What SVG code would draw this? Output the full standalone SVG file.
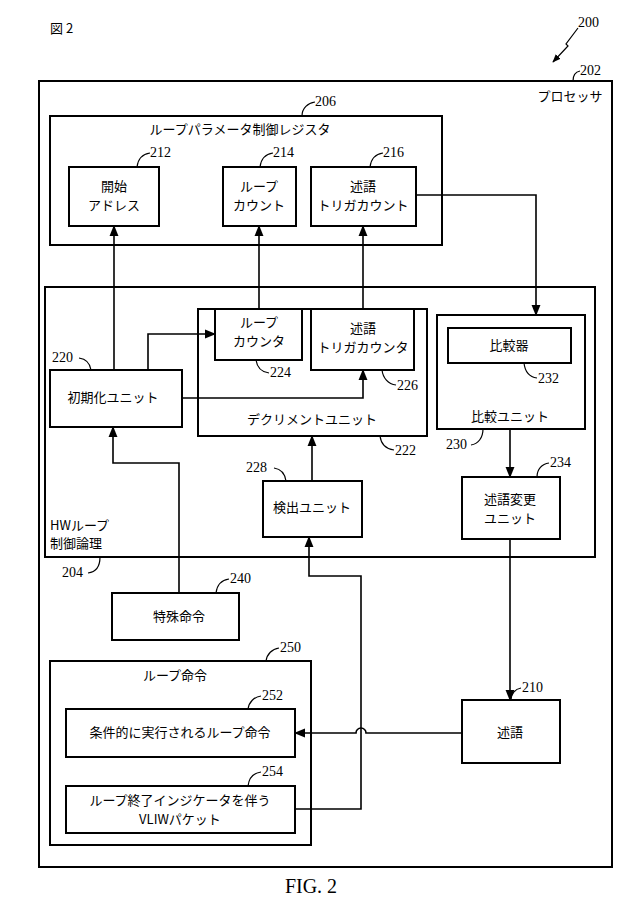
<svg xmlns="http://www.w3.org/2000/svg" width="622" height="906" viewBox="0 0 622 906">
<style>
.b{fill:none;stroke:#000;stroke-width:2}
.c{fill:none;stroke:#000;stroke-width:1.6}
.l{fill:none;stroke:#000;stroke-width:1.2}
.t{font-family:"Noto Sans CJK JP",sans-serif;font-size:13px;text-anchor:middle;fill:#000}
.n{font-family:"Liberation Serif",serif;font-size:14px;fill:#000}
</style>
<defs><marker id="a" viewBox="0 0 10 10" refX="9" refY="5" markerWidth="7" markerHeight="7" orient="auto"><path d="M0,1 L10,5 L0,9 Z" fill="#000"/></marker></defs>
<rect width="622" height="906" fill="#fff"/>
<text x="50" y="33" class="t" style="text-anchor:start">図 2</text>
<g id="ref200"><text x="578" y="27" class="n">200</text><path class="l" d="M578,28 L566,44 L568,46 L553,62" marker-end="url(#a)"/></g>
<g id="processor"><rect class="b" x="39" y="81" width="573" height="786"/><text x="570" y="101" class="t">プロセッサ</text><text x="580" y="75" class="n">202</text><path class="l" d="M580,71 C575,72 573,76 573,81"/></g>
<g id="reg206"><rect class="b" x="50" y="116" width="392" height="129"/><text x="240" y="134" class="t">ループパラメータ制御レジスタ</text><text x="315" y="106" class="n">206</text><path class="l" d="M315,102 C308,103 302,108 302,116"/></g>
<g id="n212"><rect class="b" x="69" y="167" width="90" height="59"/><text x="114" y="191" class="t">開始</text><text x="114" y="210" class="t">アドレス</text><text x="150" y="157" class="n">212</text><path class="l" d="M150,153 C143,154 138,159 137,167"/></g>
<g id="n214"><rect class="b" x="223" y="167" width="73" height="59"/><text x="259" y="191" class="t">ループ</text><text x="259" y="210" class="t">カウント</text><text x="273" y="157" class="n">214</text><path class="l" d="M273,153 C266,154 261,159 260,167"/></g>
<g id="n216"><rect class="b" x="311" y="167" width="105" height="59"/><text x="363" y="191" class="t">述語</text><text x="363" y="210" class="t">トリガカウント</text><text x="383" y="157" class="n">216</text><path class="l" d="M383,153 C376,154 371,159 370,167"/></g>
<g id="hw204"><rect class="b" x="45" y="287" width="550" height="270"/><text x="50" y="530" class="t" style="text-anchor:start">HWループ</text><text x="50" y="548" class="t" style="text-anchor:start">制御論理</text><text x="62" y="577" class="n">204</text><path class="l" d="M88,573 C96,572 100,566 100,557"/></g>
<g id="n222"><rect class="b" x="198" y="309" width="229" height="127"/><text x="312" y="424" class="t">デクリメントユニット</text><text x="395" y="455" class="n">222</text><path class="l" d="M394,450 C386,449 381,444 380,436"/></g>
<g id="n224"><rect class="b" x="215" y="309" width="87" height="51"/><text x="259" y="327" class="t">ループ</text><text x="259" y="346" class="t">カウンタ</text><text x="270" y="377" class="n">224</text><path class="l" d="M269,373 C261,372 257,367 256,360"/></g>
<g id="n226"><rect class="b" x="311" y="309" width="103" height="61"/><text x="363" y="333" class="t">述語</text><text x="363" y="352" class="t">トリガカウンタ</text><text x="397" y="390" class="n">226</text><path class="l" d="M396,385 C388,384 383,378 382,370"/></g>
<g id="n220"><rect class="b" x="50" y="370" width="132" height="57"/><text x="113" y="402" class="t">初期化ユニット</text><text x="52" y="362" class="n">220</text><path class="l" d="M79,358 C86,359 90,363 91,370"/></g>
<g id="n230"><rect class="b" x="437" y="315" width="148" height="114"/><text x="510" y="421" class="t">比較ユニット</text><text x="446" y="449" class="n">230</text><path class="l" d="M471,445 C478,444 483,438 483,429"/></g>
<g id="n232"><rect class="b" x="448" y="328" width="123" height="35"/><text x="509" y="350" class="t">比較器</text><text x="538" y="383" class="n">232</text><path class="l" d="M537,378 C530,377 525,372 524,363"/></g>
<g id="n234"><rect class="b" x="462" y="477" width="98" height="62"/><text x="510" y="504" class="t">述語変更</text><text x="510" y="523" class="t">ユニット</text><text x="550" y="467" class="n">234</text><path class="l" d="M549,463 C542,464 537,469 537,477"/></g>
<g id="n228"><rect class="b" x="263" y="481" width="99" height="56"/><text x="312" y="512" class="t">検出ユニット</text><text x="246" y="472" class="n">228</text><path class="l" d="M274,468 C281,469 285,474 286,481"/></g>
<g id="n240"><rect class="b" x="112" y="593" width="127" height="47"/><text x="179" y="621" class="t">特殊命令</text><text x="230" y="583" class="n">240</text><path class="l" d="M229,579 C222,580 217,585 216,593"/></g>
<g id="n250"><rect class="b" x="50" y="661" width="261" height="184"/><text x="175" y="680" class="t">ループ命令</text><text x="280" y="652" class="n">250</text><path class="l" d="M279,648 C272,649 267,654 266,661"/></g>
<g id="n252"><rect class="b" x="66" y="709" width="229" height="48"/><text x="180" y="737" class="t">条件的に実行されるループ命令</text><text x="262" y="700" class="n">252</text><path class="l" d="M261,696 C254,697 249,702 248,709"/></g>
<g id="n254"><rect class="b" x="66" y="786" width="229" height="47"/><text x="180" y="805" class="t">ループ終了インジケータを伴う</text><text x="180" y="824" class="t">VLIWパケット</text><text x="262" y="776" class="n">254</text><path class="l" d="M261,772 C254,773 249,778 248,786"/></g>
<g id="n210"><rect class="b" x="462" y="700" width="98" height="63"/><text x="510" y="737" class="t">述語</text><text x="522" y="692" class="n">210</text><path class="l" d="M521,688 C515,689 511,694 511,700"/></g>
<g id="connectors">
<path class="c" d="M114,370 V226" marker-end="url(#a)"/>
<path class="c" d="M259,309 V226" marker-end="url(#a)"/>
<path class="c" d="M363,309 V226" marker-end="url(#a)"/>
<path class="c" d="M416,195 H536 V315" marker-end="url(#a)"/>
<path class="c" d="M148,370 V334 H215" marker-end="url(#a)"/>
<path class="c" d="M182,398 H363 V370" marker-end="url(#a)"/>
<path class="c" d="M510,429 V477" marker-end="url(#a)"/>
<path class="c" d="M312,481 V436" marker-end="url(#a)"/>
<path class="c" d="M179,593 V463 H113 V427" marker-end="url(#a)"/>
<path class="c" d="M295,809 H361 V576 H309 V537" marker-end="url(#a)"/>
<path class="c" d="M510,539 V700" marker-end="url(#a)"/>
<path class="c" d="M462,733 H366 A5,5 0 0 0 356,733 H295" marker-end="url(#a)"/>
</g>
<text x="311" y="893" style="font-family:'Liberation Serif',serif;font-size:20px;text-anchor:middle">FIG. 2</text>
</svg>
